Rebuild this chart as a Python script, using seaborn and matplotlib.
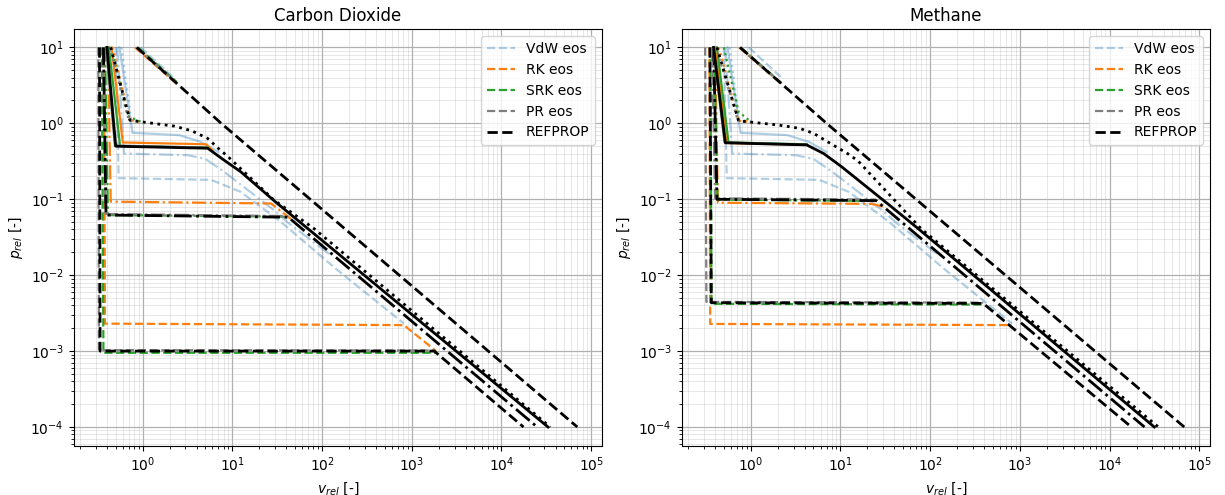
import numpy as np
import pandas as pd
import matplotlib
matplotlib.use("Agg")
import matplotlib.pyplot as plt
import seaborn as sns

# ---------------- data ----------------
EOS = ["VdW eos", "RK eos", "SRK eos", "PR eos", "REFPROP"]
COLORS = {"VdW eos": "tab:blue", "RK eos": "tab:orange", "SRK eos": "tab:green",
          "PR eos": "tab:gray", "REFPROP": "black"}
TEMPS = ["T1", "T2", "T3", "T4", "T5"]
STYLES = {"T1": "--", "T2": "-.", "T3": "-", "T4": ":", "T5": "--"}

# van der Waals isotherms (same shape in both panels): visible (v_rel, p_rel) vertices
vdw_T1 = ([0.50, 0.54, 5.8, 12.4, 35, 148, 820], [10, 0.19, 0.18, 0.125, 0.05, 0.0117, 2.3e-3])
vdw_T2 = ([0.52, 0.62, 3.2, 5.0, 8.1, 29, 41, 120], [10, 0.40, 0.38, 0.34, 0.23, 0.072, 0.05, 0.019])
vdw_T3 = ([0.55, 0.77, 2.55, 4.45, 7.0], [10, 0.75, 0.70, 0.57, 0.42])
vdw_T4 = ([0.58, 0.74, 0.95], [10, 1.16, 1.05])
vdw_T5 = ([0.95, 2.2], [10, 4.0])

# Carbon dioxide
co2_T1 = {"RK eos": ([0.37, 0.38, 815, 1870], [10, 2.3e-3, 2.2e-3, 1.0e-3]),
          "SRK eos": ([0.35, 0.365, 1900], [10, 0.95e-3, 0.95e-3]),
          "PR eos": ([0.32, 0.325, 1800], [10, 1.03e-3, 1.02e-3]),
          "REFPROP": ([0.33, 0.335, 1780, 1.76e4], [10, 1.0e-3, 1.0e-3, 1e-4])}
co2_T2 = {"RK eos": ([0.41, 0.44, 27, 45], [10, 0.093, 0.088, 0.055]),
          "SRK eos": ([0.38, 0.41, 40], [10, 0.062, 0.059]),
          "PR eos": ([0.36, 0.385, 42], [10, 0.064, 0.060]),
          "REFPROP": ([0.365, 0.39, 42, 2.5e4], [10, 0.062, 0.058, 1e-4])}
co2_T3 = {"RK eos": ([0.45, 0.60, 5.1, 6.0], [10, 0.56, 0.53, 0.44]),
          "SRK eos": ([0.42, 0.56, 5.3], [10, 0.50, 0.48]),
          "PR eos": ([0.39, 0.49, 5.2], [10, 0.51, 0.48]),
          "REFPROP": ([0.40, 0.50, 5.3, 8.0, 12.4, 30, 3.3e4], [10, 0.50, 0.47, 0.33, 0.23, 0.093, 1e-4])}
co2_T4 = {"RK eos": ([0.46, 0.72, 0.95], [10, 1.1, 1.05]),
          "SRK eos": ([0.44, 0.68, 0.95], [10, 1.25, 1.05]),
          "PR eos": ([0.43, 0.70, 0.95], [10, 1.1, 1.05]),
          "REFPROP": ([0.44, 0.72, 0.95, 2.24, 3.5, 5.3, 6.8, 8.8, 29, 81.5, 3.5e4],
                      [10, 1.1, 1.05, 0.92, 0.80, 0.634, 0.48, 0.37, 0.098, 0.041, 1e-4])}
co2_T5 = {"RK eos": ([0.82, 2.4], [10, 3.3]),
          "SRK eos": ([0.885, 2.4], [10, 3.5]),
          "PR eos": ([0.85, 2.4], [10, 3.4]),
          "REFPROP": ([0.86, 7.5, 7.0e4], [10, 1, 1e-4])}

# Methane
ch4_T1 = {"RK eos": ([0.345, 0.353, 735, 800], [10, 2.28e-3, 2.2e-3, 2.15e-3]),
          "SRK eos": ([0.355, 0.365, 370], [10, 4.2e-3, 4.1e-3]),
          "PR eos": ([0.31, 0.32, 390], [10, 4.45e-3, 4.35e-3]),
          "REFPROP": ([0.35, 0.363, 390, 1.75e4], [10, 4.33e-3, 4.25e-3, 1e-4])}
ch4_T2 = {"RK eos": ([0.40, 0.43, 22, 30], [10, 0.090, 0.087, 0.080]),
          "SRK eos": ([0.39, 0.425, 24], [10, 0.099, 0.095]),
          "PR eos": ([0.37, 0.40, 25], [10, 0.103, 0.099]),
          "REFPROP": ([0.385, 0.42, 25, 2.45e4], [10, 0.100, 0.096, 1e-4])}
ch4_T3 = {"RK eos": ([0.40, 0.54, 4.2], [10, 0.55, 0.52]),
          "SRK eos": ([0.42, 0.565, 4.2], [10, 0.56, 0.53]),
          "PR eos": ([0.38, 0.51, 4.2], [10, 0.56, 0.52]),
          "REFPROP": ([0.385, 0.52, 4.2, 6.5, 10.3, 36.8, 73, 3.15e4], [10, 0.555, 0.52, 0.40, 0.268, 0.08, 0.0413, 1e-4])}
ch4_T4 = {"RK eos": ([0.44, 0.73, 1.0], [10, 1.08, 1.05]),
          "SRK eos": ([0.50, 0.73, 1.0], [10, 1.42, 1.05]),
          "PR eos": ([0.41, 0.72, 1.0], [10, 1.08, 1.05]),
          "REFPROP": ([0.42, 0.73, 2.03, 3.5, 5.0, 8.0, 12.0, 15.7, 79, 3.5e4],
                      [10, 1.08, 0.95, 0.86, 0.74, 0.53, 0.40, 0.32, 0.041, 1e-4])}
ch4_T5 = {"RK eos": ([0.74, 2.2], [10, 3.3]),
          "SRK eos": ([0.77, 2.2], [10, 3.4]),
          "PR eos": ([0.75, 2.2], [10, 3.35]),
          "REFPROP": ([0.76, 7.0, 6.8e4], [10, 1, 1e-4])}

VDW = {"T1": vdw_T1, "T2": vdw_T2, "T3": vdw_T3, "T4": vdw_T4, "T5": vdw_T5}
GASES = [("Carbon Dioxide", {"T1": co2_T1, "T2": co2_T2, "T3": co2_T3, "T4": co2_T4, "T5": co2_T5}),
         ("Methane", {"T1": ch4_T1, "T2": ch4_T2, "T3": ch4_T3, "T4": ch4_T4, "T5": ch4_T5})]

# ---------------- figure ----------------
fig = plt.figure(figsize=(12.25, 4.95), dpi=100)
axes = [fig.add_axes([0.0601, 0.099, 0.4313, 0.842]),
        fig.add_axes([0.5565, 0.099, 0.4313, 0.842])]

for ax, (title, tdata) in zip(axes, GASES):
    for T in TEMPS:
        for eos in EOS:
            if eos == "VdW eos":
                v, p = VDW[T]
                alpha = 0.35
            else:
                v, p = tdata[T][eos]
                alpha = 1.0
            lw = 2.0 if eos == "REFPROP" else 1.6
            sns.lineplot(x=v, y=p, ax=ax, sort=False, estimator=None,
                         color=COLORS[eos], linestyle=STYLES[T], linewidth=lw,
                         alpha=alpha, label=(eos if T == "T1" else None), legend=False)
    ax.set_xscale("log")
    ax.set_yscale("log")
    ax.set_xlim(10 ** -0.77, 10 ** 5.12)
    ax.set_ylim(10 ** -4.25, 10 ** 1.24)
    ax.grid(True, which="major", color="#b0b0b0", linewidth=0.9)
    ax.grid(True, which="minor", color="#b0b0b0", linewidth=0.6, alpha=0.35)
    ax.set_axisbelow(True)
    ax.set_title(title, fontsize=12)
    ax.set_xlabel("$v_{rel}$ [-]")
    ax.set_ylabel("$p_{rel}$ [-]")
    ax.legend(loc="upper right", fontsize=10)

fig.savefig("out.png", dpi=100)
